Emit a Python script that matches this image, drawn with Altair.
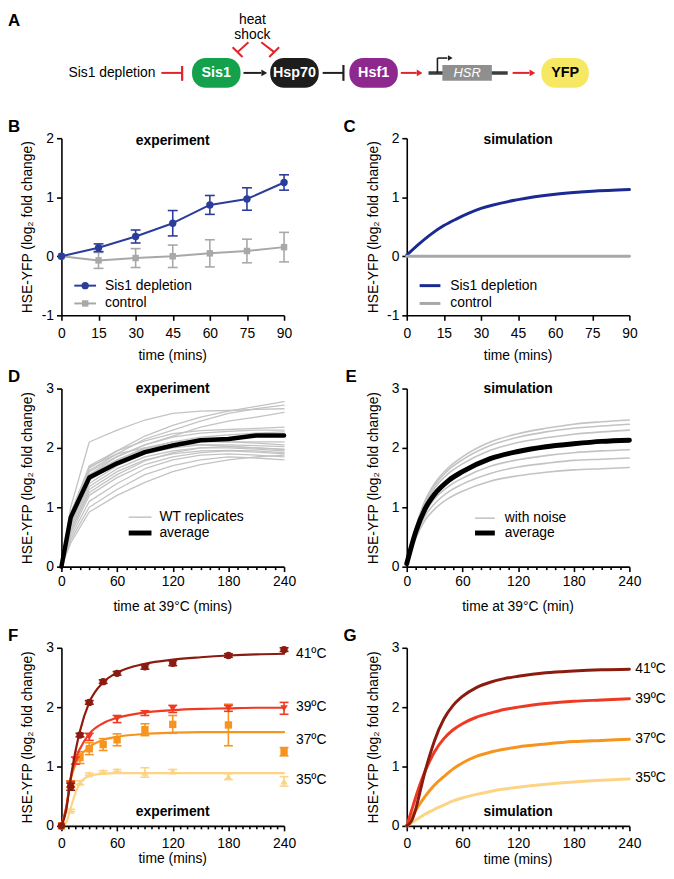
import altair as alt
import pandas as pd

FONT = "Liberation Sans"
RED = "#e3222b"
INK = "#231f20"
BLUE_EXP = "#2b3d9b"
BLUE_SIM = "#1a2a92"
GREY = "#a8a8a8"
LIGHT = "#c3c3c3"
C41, C39, C37, C35 = "#8c1b0f", "#ef3a23", "#f7941e", "#fdd485"
YTITLE = "HSE-YFP (log₂ fold change)"

W = 225
H_A, H_BC, H_DE, H_FG, TOP_FG = 52, 179, 180, 188, 8

# ---------------- A: pathway diagram ----------------
node_names = ["Sis1", "Hsp70", "Hsf1", "YFP"]
node_left = [194, 273, 353, 547]
node_right = [243, 322, 402, 595]
node_fill = ["#13a14b", "#1d1d1d", "#8e288f", "#f6e862"]
node_ink = ["white", "white", "white", "black"]

seg_x = [163, 184, 251, 235, 264, 282, 246, 326, 347, 405, 433, 442, 442, 518]
seg_y = [68, 61, 37, 42, 37, 42, 68, 68, 60, 68, 68, 68, 53, 68]
seg_x2 = [184, 184, 240, 245, 277, 272, 264, 347, 347, 421, 513, 442, 452, 535]
seg_y2 = [68, 76, 47, 52, 47, 52, 68, 68, 76, 68, 68, 53, 53, 68]
seg_col = [RED, RED, RED, RED, RED, RED, INK, INK, INK, RED, "#3c3c3c", INK, INK, RED]
seg_w = [2, 2.2, 2, 2, 2, 2, 2, 2, 2.2, 2, 3.5, 1.6, 1.6, 2]

head_x = [267, 424, 455, 538]
head_y = [68, 68, 53, 68]
head_col = [INK, RED, INK, RED]
head_size = [45, 45, 30, 45]

# ---------------- B: experiment, Sis1 depletion ----------------
b_time = [0, 15, 30, 45, 60, 75, 90]
b_sis1 = [0, 0.145, 0.335, 0.56, 0.87, 0.97, 1.25]
b_sis1_err = [0, 0.065, 0.11, 0.215, 0.16, 0.19, 0.13]
b_ctrl = [0, -0.07, -0.03, 0.0, 0.05, 0.09, 0.155]
b_ctrl_err = [0, 0.135, 0.16, 0.19, 0.23, 0.2, 0.25]

# ---------------- C: simulation, Sis1 depletion ----------------
c_time = [0, 5, 10, 15, 20, 30, 45, 60, 75, 90]
c_sis1 = [0.02, 0.21, 0.38, 0.52, 0.63, 0.81, 0.96, 1.05, 1.10, 1.13]
c_ctrl = [0, 0, 0, 0, 0, 0, 0, 0, 0, 0]

# ---------------- D: experiment, WT replicates at 39C ----------------
d_time = [0, 10, 30, 60, 90, 120, 150, 180, 210, 240]
d_avg = [0, 0.83, 1.5, 1.74, 1.93, 2.04, 2.13, 2.15, 2.21, 2.21]
d_reps = [
    [0, 1.00, 2.10, 2.30, 2.47, 2.58, 2.62, 2.63, 2.65, 2.66],
    [0, 0.90, 1.70, 1.95, 2.20, 2.38, 2.52, 2.62, 2.70, 2.78],
    [0, 0.85, 1.62, 1.90, 2.15, 2.30, 2.45, 2.58, 2.66, 2.72],
    [0, 0.80, 1.55, 1.85, 2.05, 2.20, 2.35, 2.45, 2.52, 2.60],
    [0, 0.90, 1.66, 1.95, 2.12, 2.24, 2.29, 2.31, 2.33, 2.35],
    [0, 0.85, 1.60, 1.86, 2.05, 2.18, 2.25, 2.28, 2.30, 2.30],
    [0, 0.80, 1.55, 1.80, 1.98, 2.10, 2.18, 2.22, 2.25, 2.27],
    [0, 0.75, 1.45, 1.75, 1.95, 2.05, 2.10, 2.10, 2.08, 2.05],
    [0, 0.70, 1.40, 1.70, 1.90, 2.00, 2.05, 2.05, 2.04, 2.02],
    [0, 0.65, 1.35, 1.65, 1.85, 1.95, 2.00, 2.00, 1.98, 1.95],
    [0, 0.60, 1.30, 1.60, 1.80, 1.90, 1.95, 1.96, 1.95, 1.92],
    [0, 0.55, 1.20, 1.50, 1.72, 1.85, 1.92, 1.95, 1.93, 1.90],
    [0, 0.50, 1.10, 1.40, 1.65, 1.80, 1.88, 1.90, 1.88, 1.85],
    [0, 0.45, 1.00, 1.30, 1.55, 1.70, 1.80, 1.85, 1.83, 1.80],
    [0, 0.40, 0.92, 1.20, 1.42, 1.60, 1.72, 1.80, 1.85, 1.88],
    [0, 0.70, 1.50, 1.80, 2.00, 2.10, 2.12, 2.10, 2.10, 2.10],
    [0, 0.75, 1.68, 1.90, 2.00, 2.05, 2.05, 2.03, 2.00, 1.98],
    [0, 0.60, 1.25, 1.55, 1.78, 1.92, 2.00, 2.02, 2.00, 1.97],
]

# ---------------- E: simulation with noise ----------------
e_time = [0, 10, 20, 30, 45, 60, 90, 120, 150, 180, 210, 240]
e_avg = [0.05, 0.60, 0.98, 1.22, 1.45, 1.60, 1.82, 1.94, 2.02, 2.07, 2.11, 2.13]
e_noise = [
    [0.05, 0.68, 1.12, 1.40, 1.67, 1.85, 2.10, 2.24, 2.33, 2.40, 2.44, 2.47],
    [0.05, 0.67, 1.10, 1.37, 1.63, 1.80, 2.04, 2.18, 2.27, 2.33, 2.37, 2.40],
    [0.05, 0.65, 1.06, 1.32, 1.57, 1.73, 1.96, 2.09, 2.17, 2.23, 2.27, 2.30],
    [0.05, 0.57, 0.92, 1.14, 1.35, 1.49, 1.69, 1.80, 1.87, 1.92, 1.95, 1.97],
    [0.05, 0.53, 0.86, 1.06, 1.26, 1.39, 1.57, 1.68, 1.74, 1.79, 1.81, 1.83],
    [0.05, 0.49, 0.79, 0.97, 1.15, 1.27, 1.44, 1.53, 1.59, 1.63, 1.65, 1.67],
]

# ---------------- F: experiment at four temperatures ----------------
f41_time = [0, 10, 20, 30, 45, 60, 90, 120, 180, 240]
f41_val = [0, 0.66, 1.53, 2.08, 2.43, 2.57, 2.68, 2.74, 2.87, 2.97]
f41_err = [0, 0.06, 0.03, 0.03, 0.03, 0.03, 0.04, 0.04, 0.03, 0.03]
f39_time = [0, 10, 15, 30, 60, 90, 120, 180, 240]
f39_val = [0, 0.70, 1.10, 1.50, 1.80, 1.90, 1.97, 1.98, 1.98]
f39_err = [0, 0.05, 0.06, 0.06, 0.06, 0.04, 0.06, 0.05, 0.10]
f37_time = [0, 10, 20, 30, 45, 60, 90, 120, 180, 240]
f37_val = [0, 0.71, 1.15, 1.30, 1.37, 1.45, 1.62, 1.71, 1.70, 1.25]
f37_err = [0, 0.05, 0.10, 0.10, 0.10, 0.10, 0.10, 0.15, 0.35, 0.07]
f35_time = [0, 10, 20, 30, 45, 60, 90, 120, 180, 240]
f35_val = [0, 0.26, 0.73, 0.87, 0.91, 0.93, 0.90, 0.92, 0.83, 0.75]
f35_err = [0, 0.02, 0.03, 0.02, 0.02, 0.02, 0.08, 0.03, 0.05, 0.08]
fit_time = [0, 5, 10, 15, 20, 30, 45, 60, 90, 120, 150, 180, 210, 240]
fit41 = [0, 0.25, 0.80, 1.25, 1.60, 2.08, 2.42, 2.58, 2.73, 2.80, 2.84, 2.87, 2.89, 2.90]
fit39 = [0, 0.30, 0.80, 1.12, 1.30, 1.55, 1.73, 1.82, 1.91, 1.95, 1.97, 1.98, 1.99, 1.99]
fit37 = [0, 0.30, 0.78, 1.03, 1.17, 1.33, 1.45, 1.50, 1.55, 1.57, 1.58, 1.58, 1.58, 1.58]
fit35 = [0, 0.05, 0.30, 0.55, 0.72, 0.84, 0.88, 0.89, 0.89, 0.89, 0.89, 0.89, 0.89, 0.89]
f_labels = ["41ºC", "39ºC", "37ºC", "35ºC"]
f_label_y = [2.89, 2.0, 1.45, 0.77]

# ---------------- G: simulation at four temperatures ----------------
g_time = [0, 5, 10, 15, 20, 25, 30, 40, 50, 60, 75, 90, 105, 120, 150, 180, 210, 240]
g41 = [0, 0.08, 0.30, 0.62, 0.93, 1.20, 1.44, 1.80, 2.03, 2.18, 2.33, 2.42, 2.48, 2.52, 2.58, 2.61, 2.63, 2.64]
g39 = [0, 0.25, 0.50, 0.73, 0.93, 1.10, 1.25, 1.47, 1.62, 1.72, 1.83, 1.90, 1.96, 2.00, 2.06, 2.10, 2.12, 2.14]
g37 = [0, 0.14, 0.27, 0.39, 0.50, 0.60, 0.69, 0.83, 0.96, 1.06, 1.17, 1.24, 1.29, 1.33, 1.38, 1.42, 1.44, 1.46]
g35 = [0, 0.05, 0.10, 0.15, 0.20, 0.24, 0.28, 0.35, 0.42, 0.47, 0.53, 0.58, 0.62, 0.65, 0.70, 0.74, 0.77, 0.79]
g_label_y = [2.64, 2.14, 1.46, 0.80]

# x tick positions (labels only every 60 min)
de_ticks = [0, 10, 20, 30, 40, 50, 60, 70, 80, 90, 100, 110, 120, 130, 140, 150, 160, 170, 180,
            190, 200, 210, 220, 230, 240]
fg_ticks = [0, 7.5, 15, 22.5, 30, 37.5, 45, 52.5, 60, 67.5, 75, 82.5, 90, 97.5, 105, 112.5, 120,
            127.5, 135, 142.5, 150, 157.5, 165, 172.5, 180, 187.5, 195, 202.5, 210, 217.5, 225, 232.5, 240]

ONE = pd.DataFrame({"k": [0]})


def txt(s, x, y, size=14, weight="normal", align="left", baseline="middle", color="black", style="normal"):
    return alt.Chart(ONE).mark_text(text=s, font=FONT, fontSize=size, fontWeight=weight, align=align,
                                    baseline=baseline, color=color, fontStyle=style).encode(
        x=alt.value(x), y=alt.value(y))


def leg_line(x1, x2, y, color, width):
    return alt.Chart(ONE).mark_rule(color=color, strokeWidth=width).encode(
        x=alt.value(x1), x2=alt.value(x2), y=alt.value(y))


def leg_sym(x, y, color, shape, size):
    return alt.Chart(ONE).mark_point(shape=shape, size=size, color=color, filled=True, opacity=1).encode(
        x=alt.value(x), y=alt.value(y))


def axes(xdom, xvals, ydom, yvals, xlabel_pad, minor=False, yrange=None, height=180):
    common = dict(values=xvals, title=None, labelPadding=xlabel_pad)
    if minor:
        xaxis = alt.Axis(labelExpr="datum.value % 60 === 0 ? datum.label : ''",
                         tickSize={"condition": {"test": "datum.value % 60 === 0", "value": 5}, "value": 3},
                         **common)
    else:
        xaxis = alt.Axis(labelExpr="datum.value", **common)
    ycenter = (yrange[0] + yrange[1]) / 2 if yrange else height / 2
    yaxis = alt.Axis(values=yvals, title=YTITLE, titleX=-30, titleY=ycenter, titleAngle=-90,
                     titleBaseline="alphabetic", labelExpr="datum.value", labelPadding=3,
                     titleFontWeight="normal", titleFont=FONT, titleFontSize=14)
    xs = alt.Scale(domain=xdom, nice=False, zero=False)
    if yrange:
        ys = alt.Scale(domain=ydom, nice=False, zero=False, range=yrange)
    else:
        ys = alt.Scale(domain=ydom, nice=False, zero=False)
    X = lambda f: alt.X(f, type="quantitative", scale=xs, axis=xaxis)
    Y = lambda f: alt.Y(f, type="quantitative", scale=ys, axis=yaxis)
    return X, Y


def sdf(t, v, e=None):
    d = pd.DataFrame({"t": t, "v": v})
    if e is not None:
        d["e"] = e
        d["lo"] = d["v"] - d["e"]
        d["hi"] = d["v"] + d["e"]
    return d


def line(d, X, Y, color, width, interp="linear", detail=None):
    enc = dict(x=X("t"), y=Y("v"))
    if detail:
        enc["detail"] = alt.Detail(detail, type="nominal")
    return alt.Chart(d).mark_line(color=color, strokeWidth=width, interpolate=interp,
                                  strokeCap="round", strokeJoin="round").encode(**enc)


def errbars(d, X, Y, color, cap=10, width=1.6):
    d = d[d["e"] > 0]
    base = alt.Chart(d)
    bar = base.mark_rule(color=color, strokeWidth=width).encode(x=X("t"), y=Y("lo"), y2=alt.Y2("hi"))
    lo = base.mark_point(shape="stroke", size=cap * cap, color=color, strokeWidth=width, opacity=1,
                         filled=False).encode(x=X("t"), y=Y("lo"))
    hi = base.mark_point(shape="stroke", size=cap * cap, color=color, strokeWidth=width, opacity=1,
                         filled=False).encode(x=X("t"), y=Y("hi"))
    return [bar, lo, hi]


def points(d, X, Y, color, shape, size):
    return alt.Chart(d).mark_point(shape=shape, size=size, color=color, filled=True, opacity=1).encode(
        x=X("t"), y=Y("v"))


def xtitle(s, y):
    return txt(s, W / 2, y, align="center", baseline="alphabetic")


# ---------------- build A ----------------
XA = alt.Scale(domain=[62, 287], nice=False, zero=False)
YA = alt.Scale(domain=[8, 60], nice=False, zero=False, reverse=True)
ax = lambda f: alt.X(f, type="quantitative", scale=XA, axis=None)
ay = lambda f: alt.Y(f, type="quantitative", scale=YA, axis=None)

segs = pd.DataFrame({"x": seg_x, "y": seg_y, "x2": seg_x2, "y2": seg_y2, "c": seg_col, "w": seg_w})
heads = pd.DataFrame({"x": head_x, "y": head_y, "c": head_col, "s": head_size})
nodes = pd.DataFrame({"name": node_names, "l": node_left, "r": node_right, "fill": node_fill, "ink": node_ink})
nodes["top"] = 53
nodes["bot"] = 83
nodes["cx"] = (nodes["l"] + nodes["r"]) / 2
nodes["cy"] = 68
gene = pd.DataFrame({"l": [447], "r": [497], "top": [60], "bot": [76], "cx": [472], "cy": [68], "lab": ["HSR"]})
dtext = pd.DataFrame({"lab": ["heat", "shock"], "x": [255, 255], "y": [8, 23]})
sdep = pd.DataFrame({"lab": ["Sis1 depletion"], "x": [157], "y": [68]})
aletter = pd.DataFrame({"lab": ["A"], "x": [8], "y": [8]})

diagram = alt.layer(
    alt.Chart(segs).mark_rule().encode(x=ax("x"), y=ay("y"), x2=alt.X2("x2"), y2=alt.Y2("y2"),
                                       color=alt.Color("c:N", scale=None),
                                       strokeWidth=alt.StrokeWidth("w:Q", scale=None)),
    alt.Chart(heads).mark_point(shape="triangle-right", filled=True, opacity=1).encode(
        x=ax("x"), y=ay("y"), color=alt.Color("c:N", scale=None), size=alt.Size("s:Q", scale=None)),
    alt.Chart(gene).mark_rect(color="#8f8f8f").encode(x=ax("l"), x2=alt.X2("r"), y=ay("top"), y2=alt.Y2("bot")),
    alt.Chart(gene).mark_text(font=FONT, fontSize=13, fontStyle="italic", color="white").encode(
        x=ax("cx"), y=ay("cy"), text="lab:N"),
    alt.Chart(nodes).mark_rect(cornerRadius=14).encode(x=ax("l"), x2=alt.X2("r"), y=ay("top"), y2=alt.Y2("bot"),
                                                      color=alt.Color("fill:N", scale=None)),
    alt.Chart(nodes).mark_text(font=FONT, fontSize=14.5, fontWeight="bold").encode(
        x=ax("cx"), y=ay("cy"), text="name:N", color=alt.Color("ink:N", scale=None)),
    alt.Chart(dtext).mark_text(font=FONT, fontSize=14, baseline="top", align="center").encode(
        x=ax("x"), y=ay("y"), text="lab:N"),
    alt.Chart(sdep).mark_text(font=FONT, fontSize=14, baseline="middle", align="right").encode(
        x=ax("x"), y=ay("y"), text="lab:N"),
    alt.Chart(aletter).mark_text(font=FONT, fontSize=17, fontWeight="bold", baseline="top", align="left").encode(
        x=ax("x"), y=ay("y"), text="lab:N"),
).properties(width=W, height=H_A)

spacer = alt.Chart(ONE).mark_point(opacity=0).properties(width=W, height=H_A)

# ---------------- build B ----------------
XB, YB = axes([0, 90], b_time, [-1, 2], [-1, 0, 1, 2], 6, height=H_BC)
bs = sdf(b_time, b_sis1, b_sis1_err)
bc = sdf(b_time, b_ctrl, b_ctrl_err)
pB = alt.layer(
    line(bc, XB, YB, GREY, 2), *errbars(bc, XB, YB, GREY), points(bc, XB, YB, GREY, "square", 42),
    line(bs, XB, YB, BLUE_EXP, 2), *errbars(bs, XB, YB, BLUE_EXP), points(bs, XB, YB, BLUE_EXP, "circle", 55),
    leg_line(13, 35, 149, BLUE_EXP, 2), leg_sym(24, 149, BLUE_EXP, "circle", 55),
    txt("Sis1 depletion", 44, 149),
    leg_line(13, 35, 167, GREY, 2), leg_sym(24, 167, GREY, "square", 42),
    txt("control", 44, 167),
    txt("experiment", W / 2, 7, weight="bold", align="center", baseline="alphabetic"),
    txt("B", -54, -6, size=17, weight="bold", baseline="alphabetic"),
    xtitle("time (mins)", H_BC + 45),
).properties(width=W, height=H_BC)

# ---------------- build C ----------------
XC, YC = axes([0, 90], b_time, [-1, 2], [-1, 0, 1, 2], 6, height=H_BC)
cs = sdf(c_time, c_sis1)
cc = sdf(c_time, c_ctrl)
pC = alt.layer(
    line(cs, XC, YC, BLUE_SIM, 3, "monotone"),
    line(cc, XC, YC, GREY, 3),
    leg_line(13, 34, 149, BLUE_SIM, 3), txt("Sis1 depletion", 44, 149),
    leg_line(13, 34, 167, GREY, 3), txt("control", 44, 167),
    txt("simulation", W / 2, 6, weight="bold", align="center", baseline="alphabetic"),
    txt("C", -64, -6, size=17, weight="bold", baseline="alphabetic"),
    xtitle("time (mins)", H_BC + 45),
).properties(width=W, height=H_BC)

# ---------------- build D ----------------
XD, YD = axes([0, 240], de_ticks, [0, 3], [0, 1, 2, 3], 3, minor=True, height=H_DE)
rep_rows = []
for i, rep in enumerate(d_reps):
    for t, v in zip(d_time, rep):
        rep_rows.append({"rep": i, "t": t, "v": v})
drep = pd.DataFrame(rep_rows)
pD = alt.layer(
    line(drep, XD, YD, LIGHT, 1.3, detail="rep"),
    line(sdf(d_time, d_avg), XD, YD, "black", 4.5),
    leg_line(68, 91, 130, LIGHT, 1.5), txt("WT replicates", 99, 130),
    leg_line(68, 91, 146, "black", 5), txt("average", 99, 146),
    txt("experiment", W / 2, 5, weight="bold", align="center", baseline="alphabetic"),
    txt("D", -54, -7, size=17, weight="bold", baseline="alphabetic"),
    xtitle("time at 39°C (mins)", H_DE + 45),
).properties(width=W, height=H_DE)

# ---------------- build E ----------------
XE, YE = axes([0, 240], de_ticks, [0, 3], [0, 1, 2, 3], 3, minor=True, height=H_DE)
n_rows = []
for i, rep in enumerate(e_noise):
    for t, v in zip(e_time, rep):
        n_rows.append({"rep": i, "t": t, "v": v})
enoise = pd.DataFrame(n_rows)
pE = alt.layer(
    line(enoise, XE, YE, LIGHT, 1.6, "monotone", detail="rep"),
    line(sdf(e_time, e_avg), XE, YE, "black", 5, "monotone"),
    leg_line(69, 89, 131, LIGHT, 1.6), txt("with noise", 99, 131),
    leg_line(69, 89, 146, "black", 5), txt("average", 99, 146),
    txt("simulation", W / 2, 5, weight="bold", align="center", baseline="alphabetic"),
    txt("E", -62, -7, size=17, weight="bold", baseline="alphabetic"),
    xtitle("time at 39°C (min)", H_DE + 45),
).properties(width=W, height=H_DE)

# ---------------- build F ----------------
XF, YF = axes([0, 240], fg_ticks, [0, 3], [0, 1, 2, 3], 6, minor=True, yrange=[H_FG, TOP_FG])
f_series = [
    (f35_time, f35_val, f35_err, fit35, C35, "triangle-up", 55),
    (f37_time, f37_val, f37_err, fit37, C37, "square", 55),
    (f39_time, f39_val, f39_err, fit39, C39, "triangle-down", 55),
    (f41_time, f41_val, f41_err, fit41, C41, "circle", 55),
]
f_layers = []
for t, v, e, fit, col, shp, sz in f_series:
    d = sdf(t, v, e)
    f_layers.append(line(sdf(fit_time, fit), XF, YF, col, 2.2, "monotone"))
    f_layers.extend(errbars(d, XF, YF, col, cap=9))
    f_layers.append(points(d, XF, YF, col, shp, sz))
flab = pd.DataFrame({"lab": f_labels, "v": f_label_y})
pF = alt.layer(
    *f_layers,
    alt.Chart(flab).mark_text(font=FONT, fontSize=14, align="left", baseline="middle").encode(
        x=alt.value(237), y=YF("v"), text="lab:N"),
    txt("experiment", W / 2, 178, weight="bold", align="center", baseline="alphabetic"),
    txt("F", -54, 1, size=17, weight="bold", baseline="alphabetic"),
    xtitle("time (mins)", H_FG + 38),
).properties(width=W, height=H_FG)

# ---------------- build G ----------------
XG, YG = axes([0, 240], fg_ticks, [0, 3], [0, 1, 2, 3], 6, minor=True, yrange=[H_FG, TOP_FG])
glab = pd.DataFrame({"lab": f_labels, "v": g_label_y})
pG = alt.layer(
    line(sdf(g_time, g35), XG, YG, C35, 3, "monotone"),
    line(sdf(g_time, g37), XG, YG, C37, 3, "monotone"),
    line(sdf(g_time, g39), XG, YG, C39, 3, "monotone"),
    line(sdf(g_time, g41), XG, YG, C41, 3, "monotone"),
    alt.Chart(glab).mark_text(font=FONT, fontSize=14, align="left", baseline="middle").encode(
        x=alt.value(231), y=YG("v"), text="lab:N"),
    txt("simulation", W / 2, 178, weight="bold", align="center", baseline="alphabetic"),
    txt("G", -64, 1, size=17, weight="bold", baseline="alphabetic"),
    xtitle("time (mins)", H_FG + 39),
).properties(width=W, height=H_FG)

chart = alt.concat(
    diagram, spacer, pB, pC, pD, pE, pF, pG,
    columns=2, spacing={"row": 74, "column": 124}, bounds="flush",
).properties(padding=0).configure_view(stroke=None).configure_axis(
    domainColor="black", domainWidth=1.6, tickColor="black", tickWidth=1.6, tickSize=5,
    labelFont=FONT, labelFontSize=14, labelColor="black", labelFlush=False, labelOverlap=False,
    titleFont=FONT, titleFontSize=14, titleFontWeight="normal", titleColor="black", grid=False,
)

chart.save("out.html", embed_options={"renderer": "svg", "actions": False})
